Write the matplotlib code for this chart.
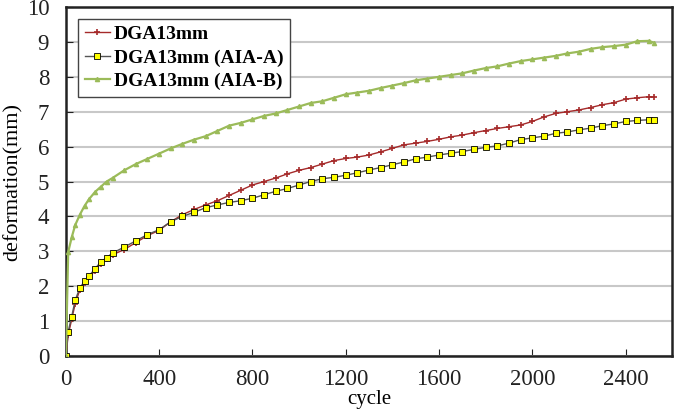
import matplotlib
matplotlib.use('Agg')
from matplotlib import pyplot as plt

cycles = [0, 10, 25, 40, 60, 80, 100, 125, 150, 175, 200, 250, 300, 350, 400, 450, 500,
          550, 600, 650, 700, 750, 800, 850, 900, 950, 1000, 1050, 1100, 1150, 1200,
          1250, 1300, 1350, 1400, 1450, 1500, 1550, 1600, 1650, 1700, 1750, 1800,
          1850, 1900, 1950, 2000, 2050, 2100, 2150, 2200, 2250, 2300, 2350, 2400,
          2450, 2500, 2520]

dga = [0, 0.6, 1.05, 1.5, 1.9, 2.1, 2.25, 2.45, 2.65, 2.78, 2.9, 3.05, 3.25, 3.45, 3.6,
       3.85, 4.05, 4.2, 4.33, 4.45, 4.6, 4.75, 4.9, 5.0, 5.1, 5.22, 5.32, 5.4, 5.5, 5.6,
       5.66, 5.7, 5.76, 5.85, 5.95, 6.05, 6.1, 6.15, 6.21, 6.28, 6.33, 6.4, 6.46, 6.52,
       6.57, 6.62, 6.72, 6.85, 6.95, 7.0, 7.05, 7.12, 7.2, 7.26, 7.36, 7.4, 7.43, 7.42]

dga_a = [0, 0.7, 1.13, 1.6, 1.95, 2.15, 2.3, 2.5, 2.7, 2.82, 2.95, 3.12, 3.3, 3.48, 3.62,
         3.85, 4.0, 4.12, 4.25, 4.33, 4.4, 4.45, 4.52, 4.62, 4.72, 4.8, 4.9, 5.0, 5.08,
         5.12, 5.18, 5.25, 5.33, 5.4, 5.48, 5.56, 5.65, 5.7, 5.76, 5.81, 5.86, 5.92, 5.98,
         6.02, 6.1, 6.2, 6.25, 6.3, 6.38, 6.42, 6.48, 6.53, 6.6, 6.65, 6.72, 6.75, 6.77, 6.76]

dga_b = [0, 2.98, 3.4, 3.75, 4.05, 4.3, 4.5, 4.7, 4.85, 5.0, 5.1, 5.32, 5.5, 5.65, 5.8,
         5.95, 6.08, 6.2, 6.3, 6.45, 6.6, 6.68, 6.78, 6.88, 6.95, 7.05, 7.15, 7.25, 7.3,
         7.4, 7.5, 7.55, 7.6, 7.68, 7.75, 7.82, 7.9, 7.95, 8.0, 8.05, 8.1, 8.18, 8.25,
         8.3, 8.38, 8.45, 8.5, 8.55, 8.6, 8.67, 8.72, 8.8, 8.85, 8.88, 8.92, 9.02, 9.03, 8.98]

labels = ['DGA13mm', 'DGA13mm (AIA-A)', 'DGA13mm (AIA-B)']
xticks = [0, 400, 800, 1200, 1600, 2000, 2400]

plt.rcParams['font.family'] = ['Liberation Serif', 'DejaVu Serif']

fig = plt.figure(figsize=(6.79, 4.13), dpi=100)
ax = fig.add_axes([0.097, 0.138, 0.893, 0.845])

ax.plot(cycles, dga, color='#a52a2a', lw=1, marker='+', ms=4, mew=1.2, label=labels[0], zorder=3)
ax.plot(cycles, dga_a, color='#555555', lw=1, marker='s', ms=5, mfc='#ffff00', mec='black',
        mew=0.6, label=labels[1], zorder=3)
ax.plot(cycles, dga_b, color='#9bbb59', lw=1.6, marker='^', ms=3, mfc='#9bbb59', mec='#9bbb59',
        label=labels[2], zorder=4)

ax.set_xlim(0, 2600)
ax.set_ylim(0, 10)
ax.set_xticks(xticks)
ax.set_yticks(range(0, 11))
ax.yaxis.grid(True, color='#c8c8c8', lw=1.5)
ax.set_axisbelow(True)
ax.tick_params(axis='both', direction='in', length=5, labelsize=16.5, colors='#222222', pad=12)
ax.tick_params(axis='x', pad=9)
for s in ax.spines.values():
    s.set_linewidth(1.8)
    s.set_color('#222222')

ax.set_xlabel('cycle', fontsize=15, labelpad=0)
ax.set_ylabel('deformation(mm)', fontsize=16, labelpad=3)

leg = ax.legend(loc='upper left', bbox_to_anchor=(0.02, 0.966), borderaxespad=0,
                prop={'size': 14, 'weight': 'bold'}, fancybox=False,
                edgecolor='#444444', framealpha=1, handlelength=1.3, handletextpad=0.2,
                borderpad=0.35, labelspacing=0.3)
leg.get_frame().set_linewidth(1.0)

plt.savefig('out.png', dpi=100)
